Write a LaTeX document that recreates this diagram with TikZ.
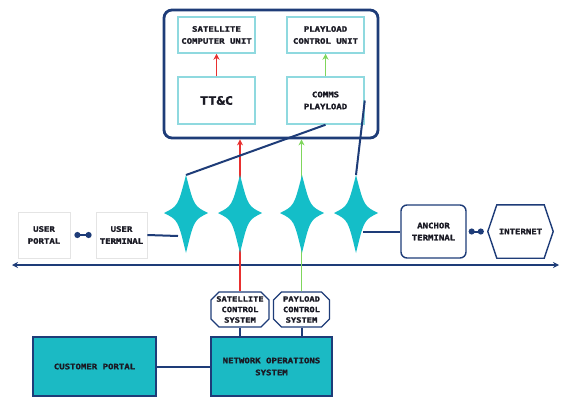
\documentclass[tikz,border=0pt]{standalone}
\usepackage{fontspec}
\usetikzlibrary{arrows.meta,shapes.misc}
\newfontfamily\lbl[FakeStretch=1.2,BoldFeatures={FakeBold=2}]{DejaVu Sans Mono}
\definecolor{navy}{HTML}{1E3C78}
\definecolor{teal}{HTML}{14BEC8}
\definecolor{nosfill}{HTML}{1BBAC4}
\definecolor{cyanb}{HTML}{8FD9DF}
\definecolor{redl}{HTML}{E8302F}
\definecolor{greenl}{HTML}{7FD65C}
\definecolor{lgray}{HTML}{E4E4E4}
\definecolor{txt}{HTML}{1A1A24}
\tikzset{
  base/.style={inner sep=0pt, align=center, text=txt, font=\lbl\bfseries\fontsize{7.5}{12}\selectfont},
  outerbox/.style={draw=navy, line width=2.8pt, rounded corners=8pt, inner sep=0pt},
  inbox/.style={base, draw=cyanb, line width=1.5pt, minimum width=77pt},
  graybox/.style={base, draw=lgray, line width=0.8pt, minimum height=46pt},
  navybox/.style={base, draw=navy, line width=1.4pt},
  ctrlbox/.style={base, font=\lbl\bfseries\fontsize{7.3}{10.5}\selectfont, draw=navy, line width=1.3pt, chamfered rectangle, chamfered rectangle xsep=4pt, chamfered rectangle ysep=4pt, minimum height=35pt},
  tealbox/.style={base, draw=navy, line width=1.4pt, fill=nosfill, minimum height=59pt},
  conn/.style={draw=navy, line width=2pt},
  dumbbell/.style={draw=navy, line width=2pt, {Circle[length=6pt]}-{Circle[length=6pt]}},
  redarrow/.style={draw=redl, line width=1.7pt, -{Stealth[length=6pt,width=6pt]}},
  greenarrow/.style={draw=greenl, line width=1.8pt, -{Stealth[length=6pt,width=6pt]}},
  starshape/.pic={\fill[teal] (0,-38) .. controls (8,-7) .. (22,0) .. controls (8,7) .. (0,40) .. controls (-8,7) .. (-22,0) .. controls (-8,-7) .. (0,-38) -- cycle;}
}
\begin{document}
\begin{tikzpicture}[x=1pt,y=-1pt]
\useasboundingbox[fill=white] (0,0) rectangle (561,396);

% satellite
\node[outerbox, minimum width=214pt, minimum height=128pt] (outer) at (271,74) {};
\node[inbox, minimum height=36pt] (scu) at (216.5,35) {SATELLITE\\COMPUTER UNIT};
\node[inbox, minimum height=36pt] (pcu) at (325.5,35) {PLAYLOAD\\CONTROL UNIT};
\node[inbox, minimum height=47pt, font=\lbl\bfseries\fontsize{11.5}{12}\selectfont] (ttc) at (216.5,100.5) {TT\&C};
\node[inbox, minimum height=47pt] (comms) at (325.5,100.5) {COMMS\\PLAYLOAD};
\draw[redarrow] (ttc.north) -- (scu.south);
\draw[greenarrow] (comms.north) -- (pcu.south);

% ground boxes
\node[graybox, minimum width=52pt] (up) at (44,235) {USER\\PORTAL};
\node[graybox, minimum width=51pt] (ut) at (121.5,235) {USER\\TERMINAL};
\node[navybox, rounded corners=6pt, minimum width=65pt, minimum height=53pt] (anchor) at (433.5,231.5) {ANCHOR\\TERMINAL};
\node[base, minimum width=65pt, minimum height=53pt] (inet) at (520.5,231.5) {INTERNET};
\draw[navy, line width=1.4pt] (inet.west) -- ([xshift=9pt]inet.north west) -- ([xshift=-9pt]inet.north east) -- (inet.east) -- ([xshift=-9pt]inet.south east) -- ([xshift=9pt]inet.south west) -- cycle;

\node[ctrlbox, minimum width=58pt] (scs) at (240,309.5) {SATELLITE\\CONTROL\\SYSTEM};
\node[ctrlbox, minimum width=56pt] (pcs) at (301.5,309.5) {PAYLOAD\\CONTROL\\SYSTEM};
\node[tealbox, minimum width=121pt] (nos) at (271.5,366.5) {NETWORK OPERATIONS\\SYSTEM};
\node[tealbox, minimum width=123pt] (cp) at (94.5,366.5) {CUSTOMER PORTAL};

% coordinates on stars
\coordinate (s1t) at (186,175);
\coordinate (s1l) at (178,236);
\coordinate (s4t) at (356,175);
\coordinate (s4r) at (363,231.5);
\coordinate (busl) at (12,265);
\coordinate (busr) at (559,265);

% connectors
\draw[navy, line width=1.8pt, {Stealth[length=6pt,width=6pt]}-{Stealth[length=6pt,width=6pt]}] (busl) -- (busr);
\draw[redarrow] (scs.north) -- (scs.north |- outer.south);
\draw[greenarrow] (pcs.north) -- (pcs.north |- outer.south);
\draw[conn] (s1t) -- (comms.south);
\draw[conn] (comms.east) -- (s4t);
\draw[conn] (ut.east) -- (s1l);
\draw[conn] (s4r) -- (anchor.west);
\draw[dumbbell, shorten <=4pt, shorten >=4pt] (up.east) -- (ut.west);
\draw[dumbbell, shorten <=2pt, shorten >=4pt] (anchor.east) -- (inet.west);
\draw[conn] (scs.south) -- (scs.south |- nos.north);
\draw[conn] (pcs.south) -- (pcs.south |- nos.north);
\draw[conn] (cp.east) -- (nos.west);

% stars
\pic at (186,213) {starshape};
\pic at (240,213) {starshape};
\pic at (302,213) {starshape};
\pic at (356,213) {starshape};
\end{tikzpicture}
\end{document}
